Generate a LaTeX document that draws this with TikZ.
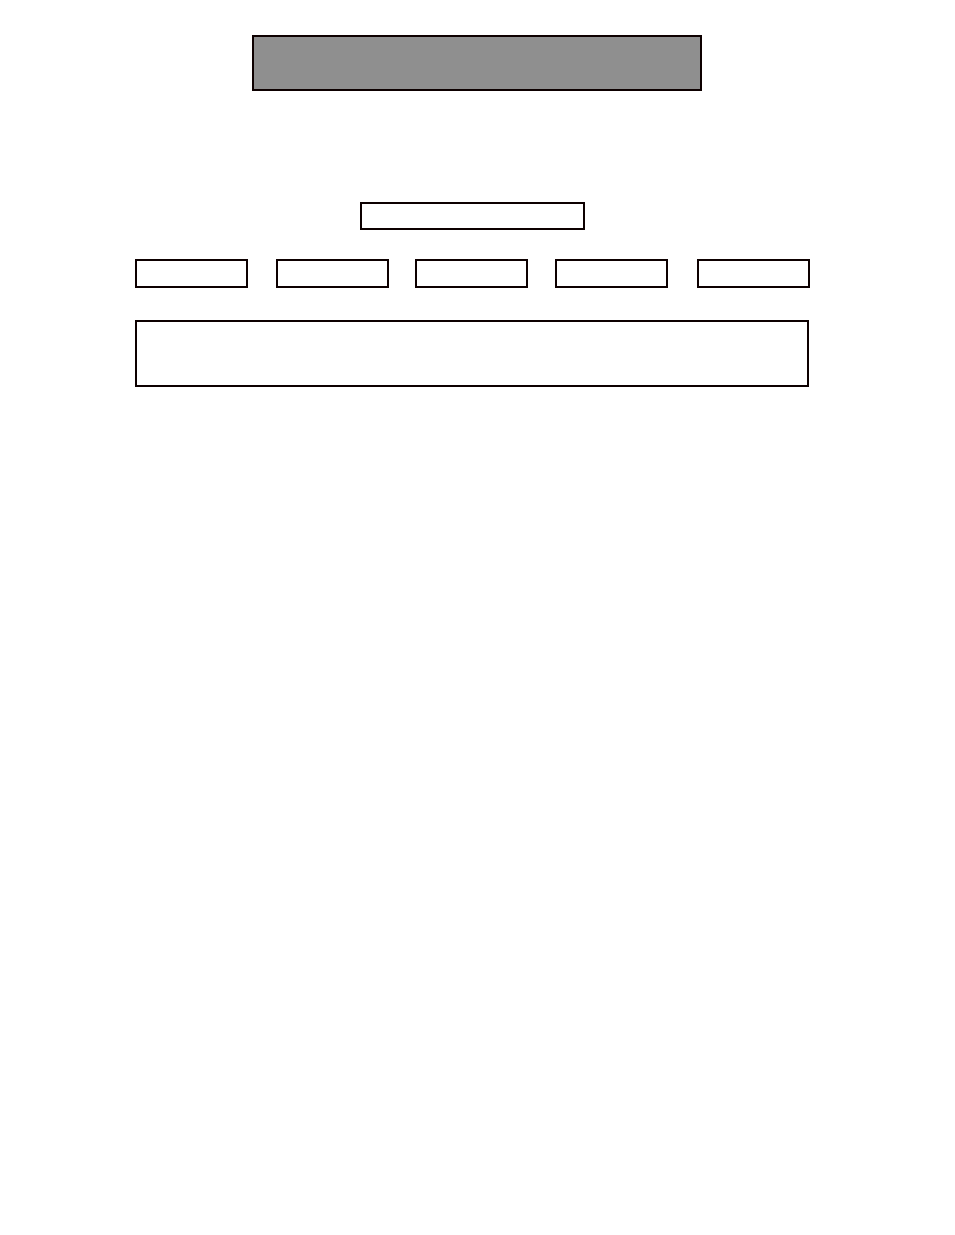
\documentclass[tikz,border=0pt]{standalone}
\begin{document}
\begin{tikzpicture}[x=1pt,y=-1pt,
  boxline/.style={draw=black!87!red!40!black, line width=1.8pt, inner sep=0pt, outer sep=0pt},
  titlebox/.style={boxline, fill=black!44, minimum width=448pt, minimum height=54pt},
  headbox/.style={boxline, fill=white, minimum width=223pt, minimum height=26pt},
  smallbox/.style={boxline, fill=white, minimum width=111pt, minimum height=27pt},
  widebox/.style={boxline, fill=white, minimum width=672pt, minimum height=65pt}]
\useasboundingbox (0,0) rectangle (954,1235);
\node[titlebox] (title) at (477,63) {};
\node[headbox] (head) at (472.5,216) {};
\node[smallbox] (b1) at (191.5,273.5) {};
\node[smallbox] (b2) at (332.5,273.5) {};
\node[smallbox] (b3) at (471.5,273.5) {};
\node[smallbox] (b4) at (611.5,273.5) {};
\node[smallbox] (b5) at (753.5,273.5) {};
\node[widebox] (wide) at (472,353.5) {};
\end{tikzpicture}
\end{document}
